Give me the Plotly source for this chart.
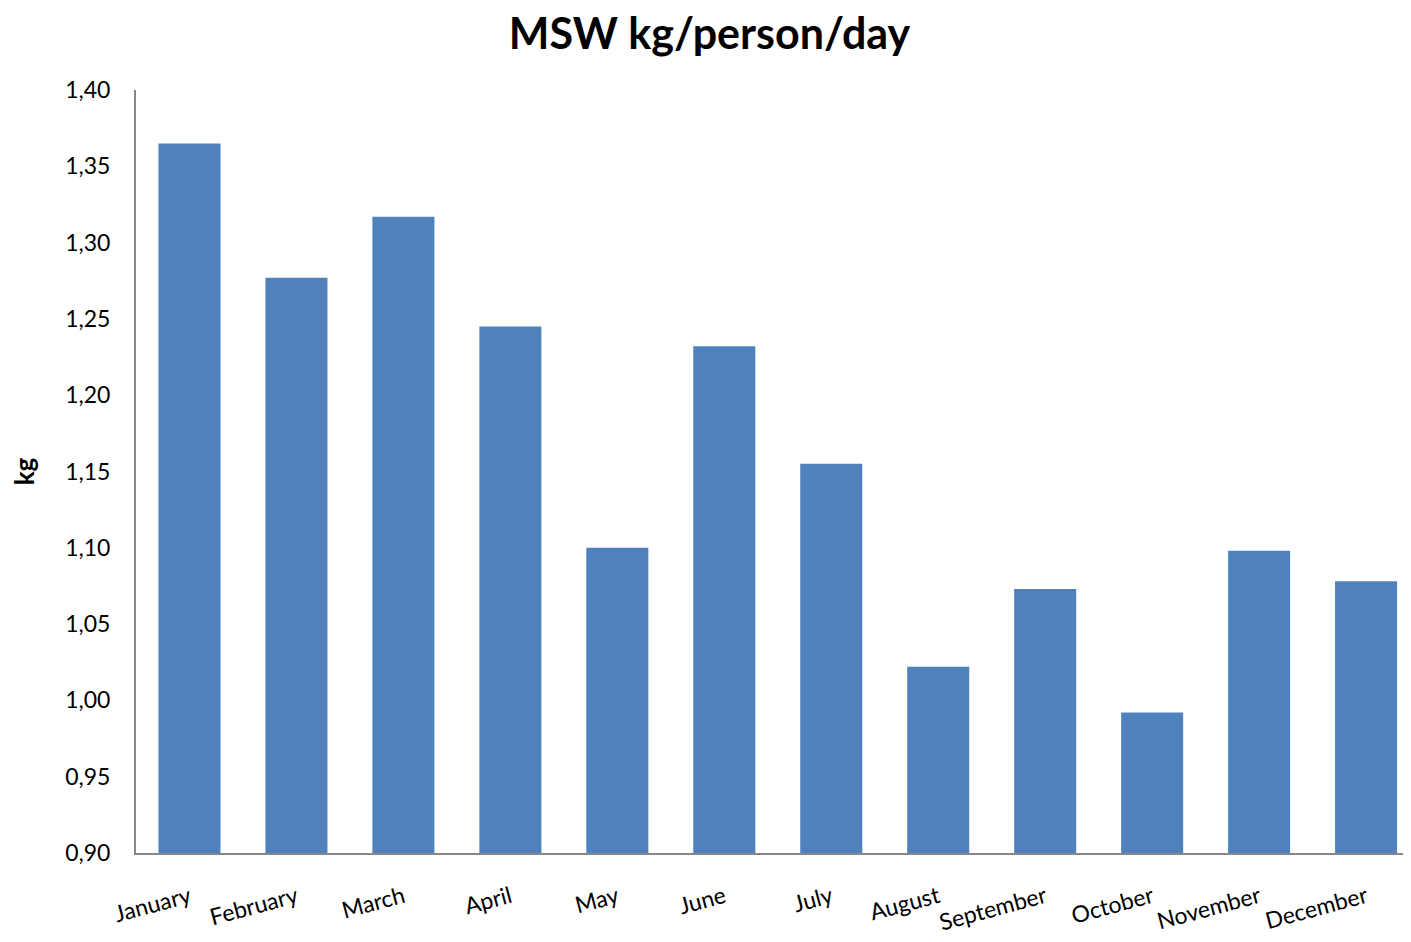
import plotly.graph_objects as go

months = ["January", "February", "March", "April", "May", "June",
          "July", "August", "September", "October", "November", "December"]
msw_kg = [1.365, 1.277, 1.317, 1.245, 1.100, 1.232,
          1.155, 1.022, 1.073, 0.992, 1.098, 1.078]
y_ticks = [0.90, 0.95, 1.00, 1.05, 1.10, 1.15, 1.20, 1.25, 1.30, 1.35, 1.40]

font_family = "Lato, 'Open Sans', sans-serif"

fig = go.Figure(go.Bar(
    x=months, y=msw_kg,
    marker=dict(color="#4F81BD", line=dict(width=0)),
))

fig.update_layout(
    width=1403, height=934,
    paper_bgcolor="white", plot_bgcolor="white",
    separators=", ",
    margin=dict(l=128, r=0, t=82, b=89),
    bargap=0.42,
    showlegend=False,
    font=dict(family=font_family, color="black"),
    title=dict(text="<b>MSW kg/person/day</b>", x=0.5, xanchor="center",
               y=0.972, yanchor="middle",
               font=dict(size=43, family=font_family, color="black")),
    xaxis=dict(
        range=[-0.5, 11.42],
        tickangle=-15,
        tickfont=dict(size=23, family=font_family),
        ticklabelstandoff=20,
        showline=True, linecolor="#878787", linewidth=2,
        showgrid=False, ticks="",
    ),
    yaxis=dict(
        range=[0.90, 1.40],
        tickvals=y_ticks,
        tickformat=".2f",
        tickfont=dict(size=23, family=font_family),
        ticklabelstandoff=19,
        showline=True, linecolor="#878787", linewidth=2,
        showgrid=False, ticks="", ticklen=0,
        title=dict(text="<b>kg</b>", font=dict(size=26, family=font_family), standoff=28),
        zeroline=False,
    ),
)

fig.write_html("out.html")
